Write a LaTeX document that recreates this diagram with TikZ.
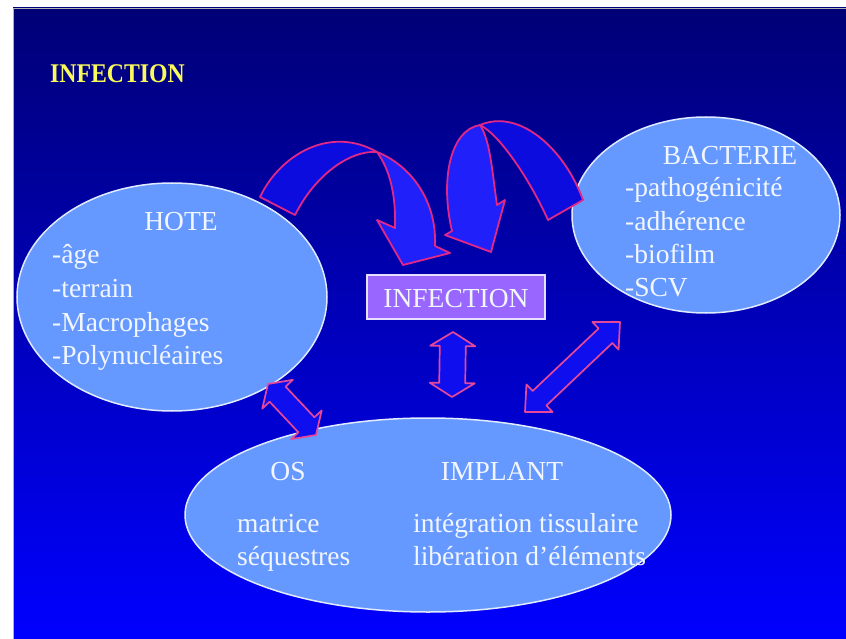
\documentclass[tikz,border=0pt]{standalone}
\usepackage{fontspec}
\setmainfont{Liberation Serif}
\usetikzlibrary{shapes.geometric,calc}

\definecolor{bgtop}{RGB}{0,0,118}
\definecolor{bgmid}{RGB}{0,0,195}
\definecolor{bgbot}{RGB}{0,0,255}
\definecolor{blobfill}{RGB}{102,153,255}
\definecolor{blobline}{RGB}{225,235,255}
\definecolor{txtcol}{RGB}{242,246,255}
\definecolor{titlecol}{RGB}{250,250,90}
\definecolor{boxfill}{RGB}{153,102,255}
\definecolor{boxline}{RGB}{232,222,255}
\definecolor{arrline}{RGB}{225,40,135}
\definecolor{arrback}{RGB}{12,12,222}
\definecolor{arrfront}{RGB}{32,32,250}
\definecolor{dblfill}{RGB}{14,14,238}

\newcommand\dblarrow[5]{%
  \coordinate (#1h) at ($(#1)!#5!(#2)$);
  \coordinate (#2h) at ($(#2)!#5!(#1)$);
  \draw[blockarrow] (#1) -- ($(#1h)!#4!90:(#2)$) -- ($(#1h)!#3!90:(#2)$)
    -- ($(#2h)!#3!-90:(#1)$) -- ($(#2h)!#4!-90:(#1)$) -- (#2)
    -- ($(#2h)!#4!90:(#1)$) -- ($(#2h)!#3!90:(#1)$)
    -- ($(#1h)!#3!-90:(#2)$) -- ($(#1h)!#4!-90:(#2)$) -- cycle;}

\begin{document}
\begin{tikzpicture}[x=1pt,y=-1pt,
  blob/.style={ellipse, draw=blobline, fill=blobfill, line width=1.5pt, inner sep=0pt},
  lbl/.style={text=txtcol, font=\fontsize{27.5}{33}\selectfont, inner sep=0pt},
  bandback/.style={draw=arrline, fill=arrback, line width=1.8pt, line join=round},
  bandfront/.style={draw=arrline, fill=arrfront, line width=1.8pt, line join=round},
  blockarrow/.style={draw=arrline!85!white, fill=dblfill, line width=1.7pt, line join=round}]
\useasboundingbox (0,0) rectangle (846,639);
\fill[white] (0,0) rectangle (846,639);
\shade[top color=bgtop, middle color=bgmid, bottom color=bgbot] (13,8) rectangle (846,639);
\draw[gray!60, line width=0.8pt] (13,639) -- (13,8) -- (846,8);

% title
\node[text=titlecol, font=\fontsize{27}{32}\selectfont\bfseries, inner sep=0pt, anchor=base west] (title) at (50,83) {\scalebox{0.88}[1]{INFECTION}};

% ellipses
\node[blob, minimum width=310pt, minimum height=228pt] (hote) at (172,297) {};
\node[blob, minimum width=268pt, minimum height=196pt] (bact) at (706,215) {};
\node[blob, minimum width=486pt, minimum height=194pt] (osimp) at (428,515) {};

% HOTE text
\node[lbl, anchor=base] (hoteT) at (181,230) {HOTE};
\node[lbl, anchor=base west] (h1) at (52,263) {-âge};
\node[lbl, anchor=base west] (h2) at (52,297) {-terrain};
\node[lbl, anchor=base west] (h3) at (52,331) {-Macrophages};
\node[lbl, anchor=base west] (h4) at (52,364) {-Polynucléaires};

% BACTERIE text
\node[lbl, anchor=base] (bactT) at (730,165) {BACTERIE};
\node[lbl, anchor=base west] (b1) at (625,197) {-pathogénicité};
\node[lbl, anchor=base west] (b2) at (625,230) {-adhérence};
\node[lbl, anchor=base west] (b3) at (625,263) {-biofilm};
\node[lbl, anchor=base west] (b4) at (625,296) {-SCV};

% OS / IMPLANT text
\node[lbl, anchor=base] (osT) at (288,480) {OS};
\node[lbl, anchor=base] (impT) at (502,480) {IMPLANT};
\node[lbl, anchor=base west] (o1) at (237,532) {matrice};
\node[lbl, anchor=base west] (o2) at (237,565) {séquestres};
\node[lbl, anchor=base west] (i1) at (413,532) {intégration tissulaire};
\node[lbl, anchor=base west] (i2) at (413,565) {libération d’éléments};

% central box
\node[draw=boxline, fill=boxfill, line width=1.5pt, minimum width=178pt, minimum height=44pt, inner sep=0pt] (inf) at (456,297) {};
\node[lbl, text=txtcol, anchor=base] (infT) at (456,307) {INFECTION};

% curved arrow HOTE -> INFECTION
\coordinate (la0) at (260,197);
\coordinate (la1) at (295,215);
\coordinate (lap) at (377,152);
\coordinate (latip) at (403,265);
\draw[bandback] (la0) .. controls (280,155) and (330,125) .. (lap)
  .. controls (350,150) and (315,175) .. (la1) -- cycle;
\draw[bandfront] (lap) .. controls (410,165) and (437,200) .. (435,246)
  -- (450,253) -- (latip) -- (377,220) -- (395,228)
  .. controls (396,195) and (390,170) .. (lap) -- cycle;

% curved arrow BACTERIE -> INFECTION
\coordinate (ra0) at (583,200);
\coordinate (ra1) at (548,220);
\coordinate (rap) at (480,125);
\coordinate (ratip) at (491,252);
\draw[bandback] (ra0) .. controls (565,150) and (520,108) .. (rap)
  .. controls (500,135) and (530,180) .. (ra1) -- cycle;
\draw[bandfront] (rap) .. controls (450,130) and (440,180) .. (452,231)
  -- (445,235) -- (ratip) -- (505,200) -- (497,205)
  .. controls (492,170) and (490,140) .. (rap) -- cycle;

% double arrows
\coordinate (vA) at (453,332);
\coordinate (vB) at (452,397);
\dblarrow{vA}{vB}{13pt}{22.5pt}{14pt}
\coordinate (hA) at (268,384);
\coordinate (hB) at (316,435);
\dblarrow{hA}{hB}{11pt}{21pt}{14pt}
\coordinate (bA) at (620,322);
\coordinate (bB) at (525,412);
\dblarrow{bA}{bB}{10pt}{19pt}{20pt}
\end{tikzpicture}
\end{document}
